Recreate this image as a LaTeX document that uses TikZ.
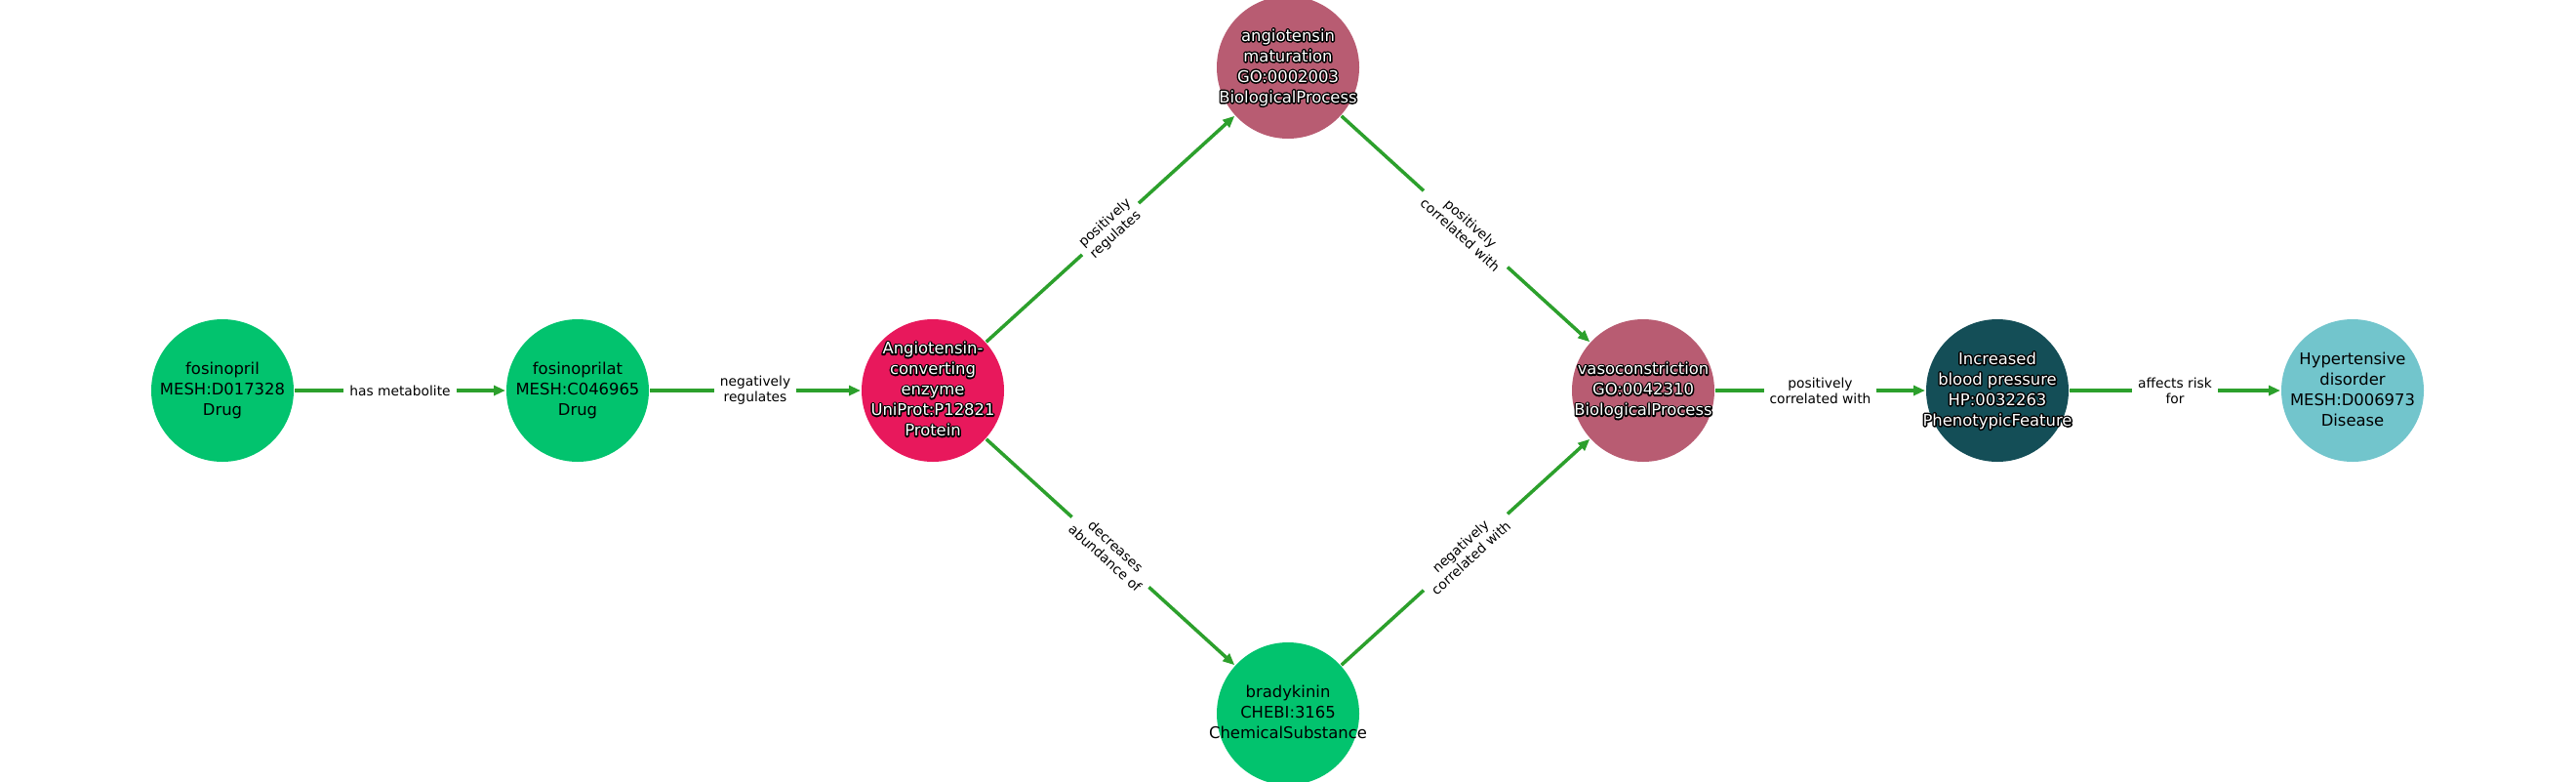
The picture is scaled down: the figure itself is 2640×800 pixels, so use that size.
\documentclass[tikz,border=0pt]{standalone}
\usepackage{fontspec}
\setmainfont{DejaVu Sans}
\usetikzlibrary{arrows.meta}
\definecolor{cgreen}{RGB}{2,195,110}
\definecolor{cpink}{RGB}{232,24,92}
\definecolor{cmauve}{RGB}{184,92,114}
\definecolor{cdteal}{RGB}{20,78,87}
\definecolor{clteal}{RGB}{114,197,204}
\definecolor{edgegreen}{RGB}{44,160,44}
\newcommand\olt[1]{\rlap{\color{black}\special{pdf:literal direct 1 Tr 1.5 w 1 j 0 G}#1\special{pdf:literal direct 0 Tr}}#1}
\newcommand\ntext[1]{\makebox[0pt]{\smash{\raisebox{-2.2pt}{\begin{tabular}[c]{@{}c@{}}#1\end{tabular}}}}}
\begin{document}
\begin{tikzpicture}[x=0.5pt,y=-0.5pt,
  ent/.style={circle, minimum size=73pt, inner sep=0pt, outer sep=0.5pt,
    font=\fontsize{8.2}{10.5}\selectfont},
  rel/.style={-{Triangle[length=6pt,width=5pt]}, line width=1.75pt, draw=edgegreen},
  lab/.style={fill=white, font=\fontsize{6.9}{8}\selectfont, align=center,
    inner xsep=3pt, inner ysep=1pt, text=black, sloped, pos=0.5}]
\useasboundingbox (0,0) rectangle (2640,800);
\clip (0,0) rectangle (2640,800);
\node[ent, fill=cgreen] (fos) at (228,400) {\ntext{fosinopril\\MESH:D017328\\Drug}};
\node[ent, fill=cgreen] (fosl) at (592,400) {\ntext{fosinoprilat\\MESH:C046965\\Drug}};
\node[ent, fill=cpink, text=white] (ace) at (956,400) {\ntext{\olt{Angiotensin-}\\\olt{converting}\\\olt{enzyme}\\\olt{UniProt:P12821}\\\olt{Protein}}};
\node[ent, fill=cmauve, text=white] (angm) at (1320,69) {\ntext{\olt{angiotensin}\\\olt{maturation}\\\olt{GO:0002003}\\\olt{BiologicalProcess}}};
\node[ent, fill=cgreen] (brad) at (1320,731) {\ntext{bradykinin\\CHEBI:3165\\ChemicalSubstance}};
\node[ent, fill=cmauve, text=white] (vaso) at (1684,400) {\ntext{\olt{vasoconstriction}\\\olt{GO:0042310}\\\olt{BiologicalProcess}}};
\node[ent, fill=cdteal, text=white] (ibp) at (2047,400) {\ntext{\olt{Increased}\\\olt{blood pressure}\\\olt{HP:0032263}\\\olt{PhenotypicFeature}}};
\node[ent, fill=clteal] (hyp) at (2411,400) {\ntext{Hypertensive\\disorder\\MESH:D006973\\Disease}};
\draw[rel] (fos) -- node[lab]{has metabolite} (fosl);
\draw[rel] (fosl) -- node[lab]{negatively\\regulates} (ace);
\draw[rel] (ace) -- node[lab]{positively\\regulates} (angm);
\draw[rel] (ace) -- node[lab]{decreases\\abundance of} (brad);
\draw[rel] (angm) -- node[lab]{positively\\correlated with} (vaso);
\draw[rel] (brad) -- node[lab]{negatively\\correlated with} (vaso);
\draw[rel] (vaso) -- node[lab]{positively\\correlated with} (ibp);
\draw[rel] (ibp) -- node[lab]{affects risk\\for} (hyp);
\end{tikzpicture}
\end{document}
